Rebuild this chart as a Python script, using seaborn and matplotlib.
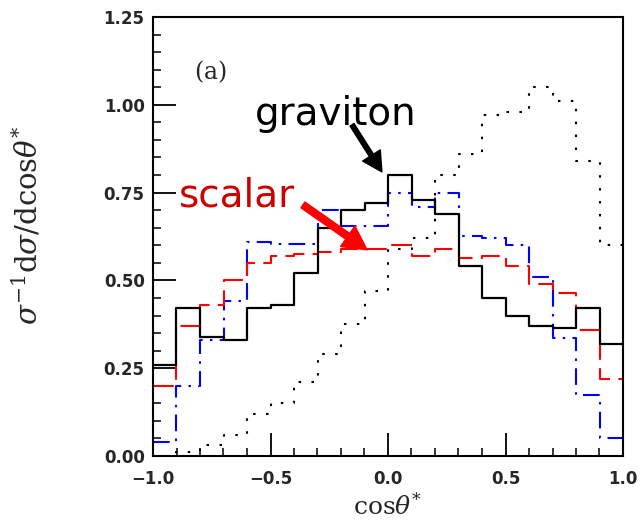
import numpy as np
import pandas as pd
import matplotlib
matplotlib.use("Agg")
import matplotlib.pyplot as plt
import seaborn as sns

# ---- data ----
bin_centers = [-0.95, -0.85, -0.75, -0.65, -0.55, -0.45, -0.35, -0.25, -0.15, -0.05,
               0.05, 0.15, 0.25, 0.35, 0.45, 0.55, 0.65, 0.75, 0.85, 0.95]
bin_edges = [-1.0, -0.9, -0.8, -0.7, -0.6, -0.5, -0.4, -0.3, -0.2, -0.1, 0.0,
             0.1, 0.2, 0.3, 0.4, 0.5, 0.6, 0.7, 0.8, 0.9, 1.0]
graviton = [0.26, 0.42, 0.34, 0.33, 0.42, 0.43, 0.52, 0.65, 0.70, 0.72,
            0.80, 0.73, 0.69, 0.54, 0.45, 0.40, 0.37, 0.365, 0.42, 0.32]
scalar = [0.20, 0.37, 0.43, 0.50, 0.55, 0.57, 0.575, 0.58, 0.59, 0.59,
          0.60, 0.57, 0.59, 0.565, 0.57, 0.54, 0.49, 0.465, 0.36, 0.22]
blue_dashdot = [0.04, 0.20, 0.33, 0.44, 0.61, 0.605, 0.605, 0.70, 0.655, 0.655,
                0.75, 0.71, 0.75, 0.625, 0.62, 0.60, 0.51, 0.335, 0.175, 0.05]
dotted = [0.0, 0.01, 0.03, 0.06, 0.12, 0.15, 0.21, 0.29, 0.375, 0.47,
          0.59, 0.62, 0.80, 0.86, 0.97, 0.98, 1.05, 1.01, 0.84, 0.60]
x_ticks = [-1.0, -0.5, 0.0, 0.5, 1.0]
x_ticklabels = ["\u22121.0", "\u22120.5", "0.0", "0.5", "1.0"]
y_ticks = [0.0, 0.25, 0.5, 0.75, 1.0, 1.25]
y_ticklabels = ["0.00", "0.25", "0.50", "0.75", "1.00", "1.25"]

df = pd.DataFrame({"x": bin_centers, "graviton": graviton, "scalar": scalar,
                   "blue": blue_dashdot, "dotted": dotted})

sns.set_theme(style="white")
plt.rcParams["font.family"] = ["DejaVu Sans"]
plt.rcParams["mathtext.fontset"] = "dejavuserif"

fig = plt.figure(figsize=(6.42, 5.23), dpi=100)
ax = fig.add_axes([153 / 642, 67 / 523, 470 / 642, 439 / 523])

series = [
    ("dotted", "black", (0, (1.2, 5.0)), 1.5),
    ("blue", "#0000ff", (0, (8, 3.5, 1.2, 3.5)), 1.5),
    ("scalar", "#ff0000", (0, (10, 4)), 1.5),
    ("graviton", "black", "-", 1.6),
]
for col, color, ls, lw in series:
    sns.histplot(data=df, x="x", weights=col, bins=bin_edges, element="step",
                 fill=False, color=color, linestyle=ls, linewidth=lw, ax=ax)

ax.set_xlim(-1.0, 1.0)
ax.set_ylim(0.0, 1.25)
ax.set_xticks(x_ticks)
ax.set_xticklabels(x_ticklabels)
ax.set_yticks(y_ticks)
ax.set_yticklabels(y_ticklabels)
ax.set_xticks(np.arange(-1.0, 1.0001, 0.1), minor=True)
ax.set_yticks(np.arange(0.0, 1.2501, 0.05), minor=True)
ax.tick_params(which="major", direction="in", length=16.5, width=1.3, color="black",
               labelsize=12, pad=6)
ax.tick_params(which="minor", direction="in", length=6, width=1.1, color="black")
ax.tick_params(axis="x", which="major", pad=10)
ax.tick_params(bottom=True, left=True, top=False, right=False, which="both")
for lab in ax.get_xticklabels() + ax.get_yticklabels():
    lab.set_fontweight("bold")
for s in ax.spines.values():
    s.set_visible(True)
    s.set_color("black")
    s.set_linewidth(1.5)

ax.set_xlabel(r"$\mathrm{cos}\theta^{*}$", fontsize=18)
ax.set_ylabel(r"$\sigma^{-1}\mathrm{d}\sigma/\mathrm{dcos}\theta^{*}$", fontsize=21)
ax.xaxis.set_label_coords(0.5, -0.084)
ax.yaxis.set_label_coords(-0.234, 0.525)

ax.text(-0.757, 1.094, r"$\mathrm{(a)}$", fontsize=17, ha="center", va="center")
ax.text(-0.221, 0.943, "graviton", fontsize=28, ha="center", va="baseline", color="black")
ax.text(-0.643, 0.709, "scalar", fontsize=28, ha="center", va="baseline", color="#cc0000")

ax.annotate("", xy=(-0.026, 0.809), xytext=(-0.153, 0.943),
            arrowprops=dict(arrowstyle="simple,head_width=0.75,head_length=0.7,tail_width=0.17",
                            mutation_scale=20, color="black", shrinkA=0, shrinkB=0))
ax.annotate("", xy=(-0.089, 0.587), xytext=(-0.362, 0.715),
            arrowprops=dict(arrowstyle="simple,head_width=0.9,head_length=0.85,tail_width=0.25",
                            mutation_scale=20, color="#ff0000", shrinkA=0, shrinkB=0))

fig.savefig("out.png", dpi=100)
